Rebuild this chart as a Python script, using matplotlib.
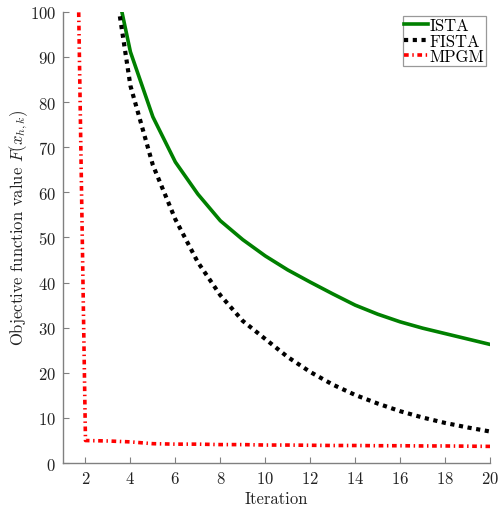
import numpy as np
import matplotlib
matplotlib.use("Agg")
import matplotlib.pyplot as plt

plt.rcParams['font.family'] = 'serif'
plt.rcParams['font.serif'] = ['cmr10', 'DejaVu Serif']
plt.rcParams['mathtext.fontset'] = 'cm'
plt.rcParams['axes.formatter.use_mathtext'] = True
plt.rcParams['axes.unicode_minus'] = False

# data
iters = np.arange(1, 21)
ista = [np.nan, np.nan, 114.5, 91.1, 76.7, 66.7, 59.6, 53.7, 49.5, 45.9,
        42.8, 40.1, 37.5, 35.0, 33.0, 31.3, 29.9, 28.7, 27.5, 26.3]
fista = [np.nan, np.nan, 116.4, 83.6, 66.0, 54.0, 44.5, 37.2, 31.5, 27.5,
         23.5, 20.2, 17.4, 15.1, 13.2, 11.5, 10.1, 8.9, 7.9, 7.0]
mpgm = [320.0, 5.0, 4.9, 4.7, 4.3, 4.2, 4.2, 4.1, 4.1, 4.0,
        4.0, 3.95, 3.9, 3.9, 3.85, 3.85, 3.8, 3.8, 3.75, 3.7]

fig = plt.figure(figsize=(5, 5.1), dpi=100)
ax = fig.add_axes([0.126, 0.090, 0.854, 0.885])

ax.plot(iters, ista, color='green', lw=2.6, label='ISTA')
ax.plot(iters, fista, color='black', lw=3, dashes=(1, 1.1), dash_capstyle='butt', label='FISTA')
ax.plot(iters, mpgm, color='red', lw=2.6, dashes=(1.3, 1.0, 0.4, 1.0), dash_capstyle='butt', label='MPGM')

ax.set_xlim(1, 20)
ax.set_ylim(0, 100)
ax.set_xticks(np.arange(2, 21, 2))
ax.set_yticks(np.arange(0, 101, 10))

for s in ['top', 'right']:
    ax.spines[s].set_visible(False)
for s in ['left', 'bottom']:
    ax.spines[s].set_color('#808080')
    ax.spines[s].set_linewidth(1.0)
ax.tick_params(direction='in', length=4, color='#808080', labelsize=12, labelcolor='#222222', pad=5)

ax.set_xlabel('Iteration', fontsize=12, color='#222222', labelpad=3)
ax.set_ylabel(r'Objective function value $F(x_{h,k})$', fontsize=12, color='#222222')
ax.yaxis.set_label_coords(-0.077, 0.525)

leg = ax.legend(loc='upper right', bbox_to_anchor=(0.99, 0.99), fontsize=12, frameon=True,
                fancybox=False, handlelength=1.4, handletextpad=0.1, borderpad=0.1,
                labelspacing=0.0, borderaxespad=0)
leg.get_frame().set_edgecolor('#808080')
leg.get_frame().set_linewidth(0.9)

plt.savefig('out.png', dpi=100)
